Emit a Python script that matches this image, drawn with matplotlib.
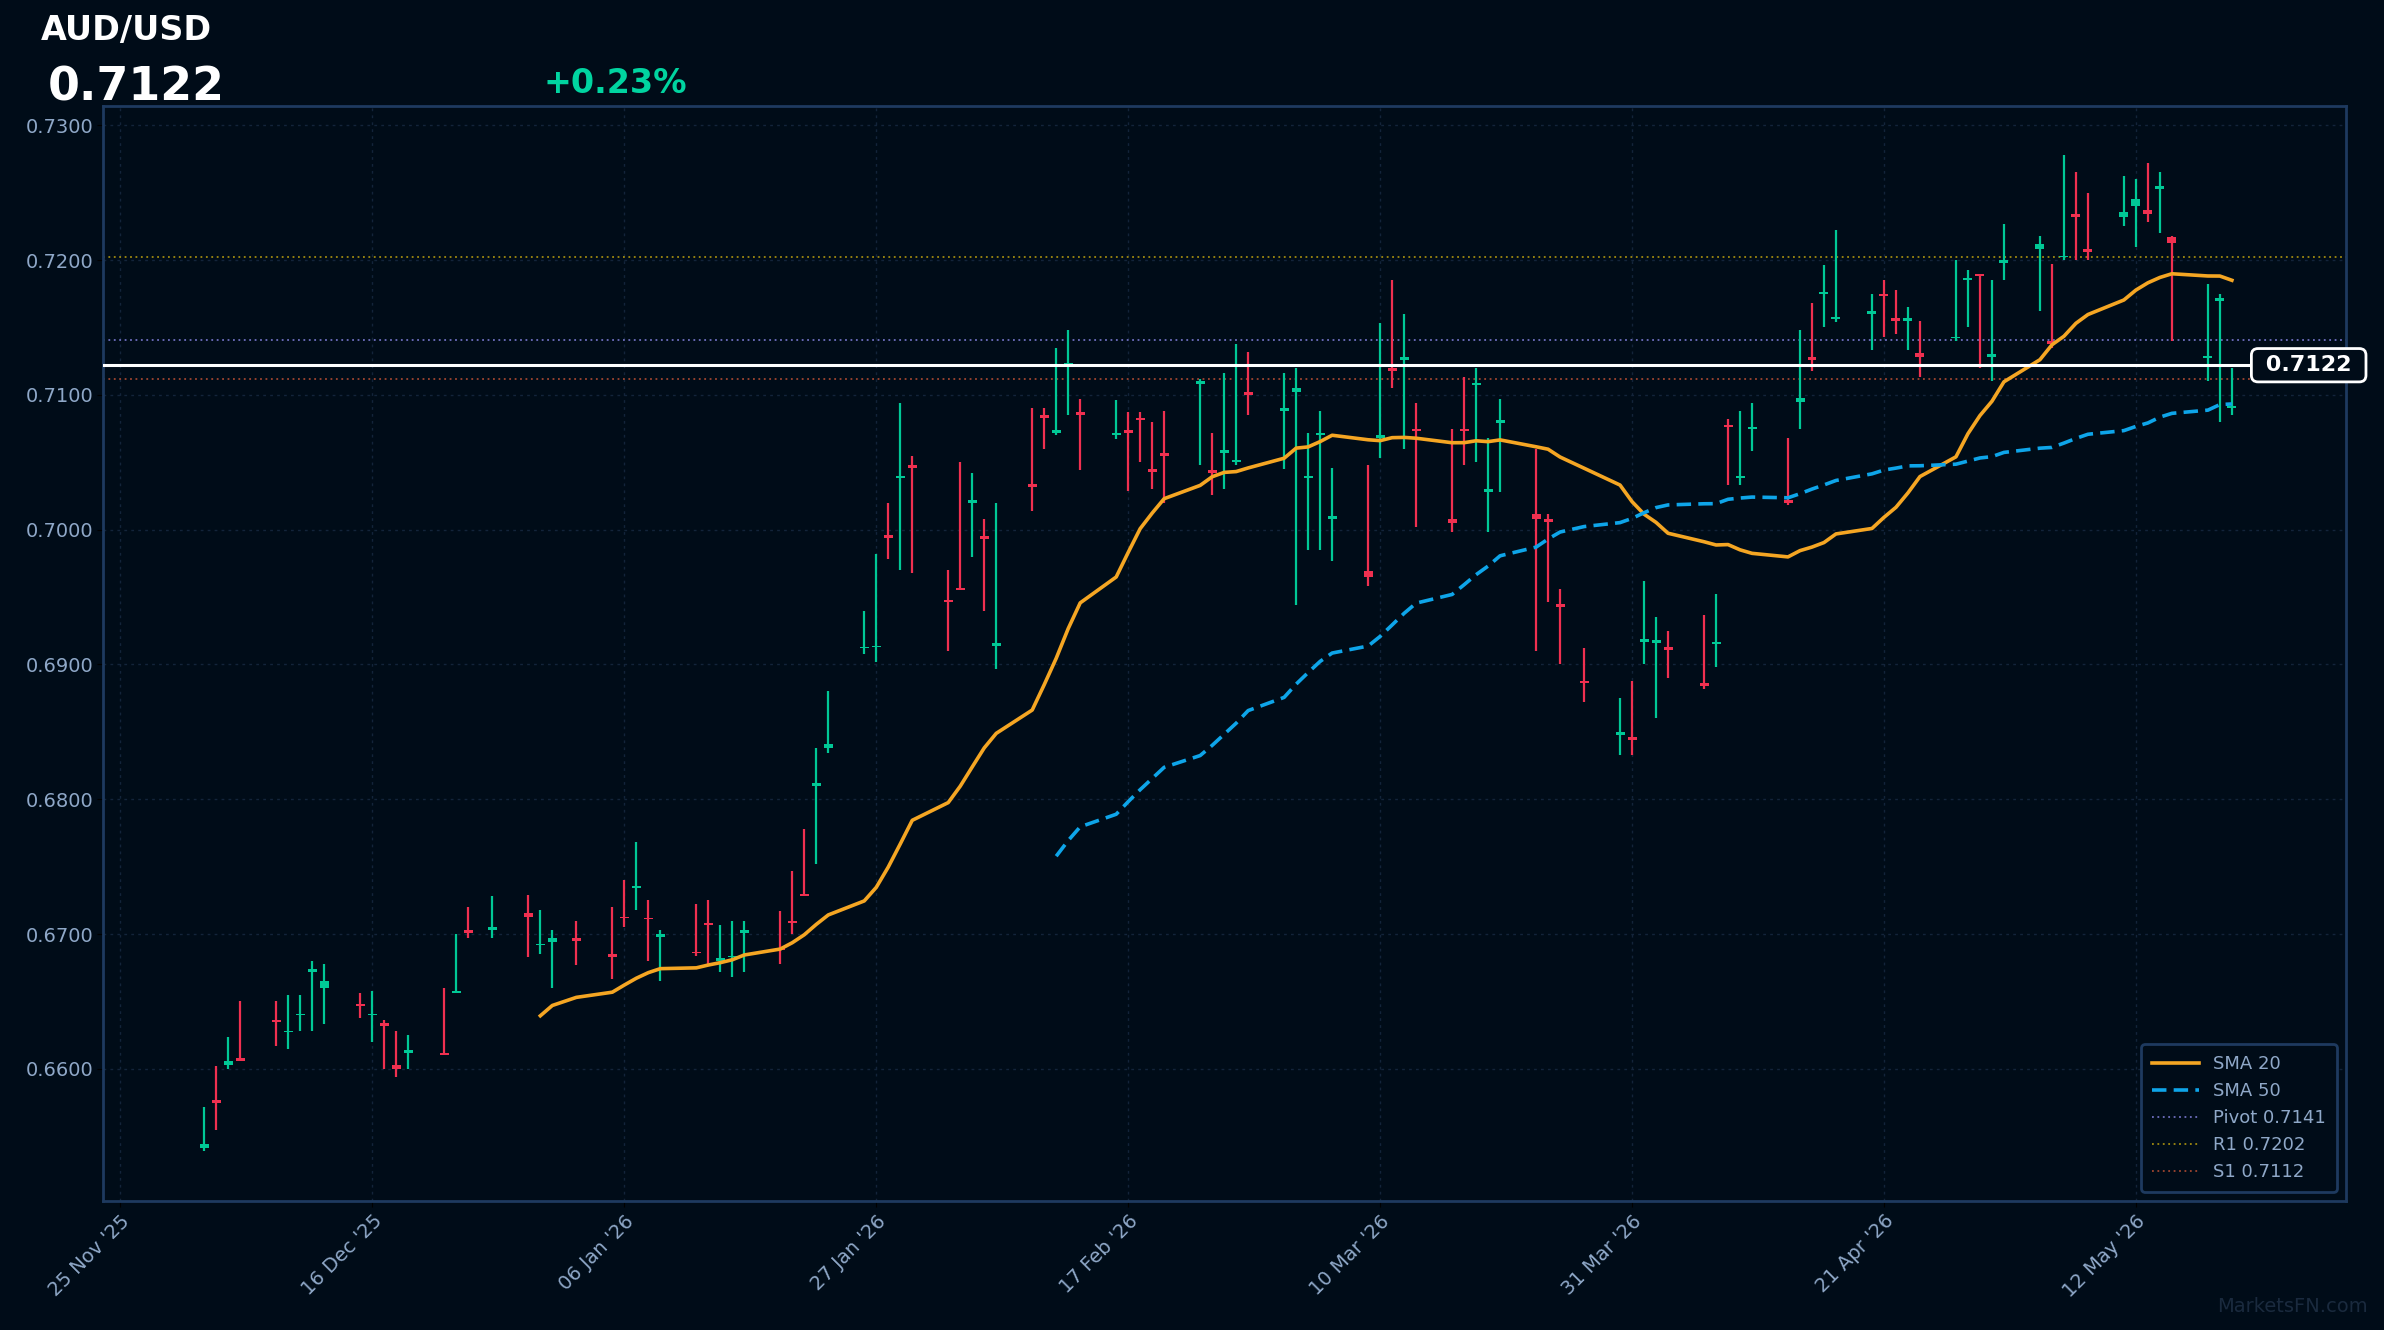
import numpy as np
import pandas as pd
import matplotlib
matplotlib.use("Agg")
import matplotlib.pyplot as plt
import matplotlib.dates as mdates

symbol = "AUD/USD"
last_price = 0.7122
change_pct = "+0.23%"
pivot, r1, s1 = 0.7141, 0.7202, 0.7112
holidays = ["2025-12-25", "2026-01-01", "2026-03-26"]
dates = [d for d in pd.bdate_range("2025-12-02", "2026-05-20") if d.strftime("%Y-%m-%d") not in holidays]

opens = [.6541,.6577,.6603,.6608,.6636,.6627,.6640,.6672,.6660,.6648,.6640,.6634,.6603,.6612,.6612,.6656,.6703,.6703,.6716,.6692,
         .6694,.6697,.6685,.6713,.6734,.6712,.6698,.6687,.6708,.6680,.6683,.6701,.6690,.6710,.6730,.6810,.6838,.6912,.6913,.6996,
         .7038,.7048,.6948,.6957,.7020,.6995,.6914,.7034,.7085,.7072,.7122,.7087,.7070,.7074,.7083,.7045,.7057,.7108,.7044,.7057,
         .7050,.7102,.7088,.7102,.7038,.7070,.7008,.6969,.7068,.7120,.7126,.7075,.7008,.7075,.7107,.7028,.7079,.7012,.7008,.6945,
         .6888,.6848,.6846,.6917,.6916,.6913,.6886,.6915,.7078,.7038,.7075,.7022,.7095,.7128,.7175,.7156,.7160,.7175,.7157,.7155,
         .7131,.7142,.7185,.7190,.7128,.7198,.7208,.7140,.7202,.7234,.7208,.7232,.7240,.7237,.7253,.7217,.7127,.7170,.7090]
closes = [.6544,.6575,.6606,.6606,.6635,.6628,.6641,.6674,.6665,.6647,.6641,.6632,.6600,.6614,.6610,.6658,.6701,.6705,.6713,.6693,
          .6697,.6695,.6683,.6712,.6736,.6711,.6700,.6686,.6707,.6682,.6684,.6703,.6688,.6708,.6728,.6812,.6841,.6913,.6914,.6994,
          .7040,.7046,.6946,.6955,.7022,.6993,.6916,.7032,.7083,.7074,.7124,.7085,.7072,.7072,.7081,.7043,.7055,.7110,.7042,.7059,
          .7052,.7100,.7090,.7105,.7040,.7072,.7010,.6965,.7070,.7118,.7128,.7073,.7005,.7073,.7109,.7030,.7081,.7008,.7006,.6943,
          .6886,.6850,.6844,.6919,.6918,.6911,.6884,.6917,.7076,.7040,.7076,.7020,.7098,.7126,.7176,.7158,.7162,.7173,.7155,.7157,
          .7128,.7143,.7187,.7188,.7130,.7200,.7212,.7138,.7203,.7232,.7206,.7236,.7245,.7234,.7255,.7213,.7129,.7172,.7092]
highs = [.6572,.6602,.6624,.6650,.6650,.6655,.6655,.6680,.6678,.6656,.6658,.6636,.6628,.6625,.6660,.6700,.6720,.6728,.6729,.6718,
         .6703,.6710,.6720,.6740,.6768,.6725,.6703,.6722,.6725,.6707,.6710,.6710,.6717,.6747,.6778,.6838,.6880,.6940,.6982,.7020,
         .7094,.7055,.6970,.7050,.7042,.7008,.7020,.7090,.7090,.7135,.7148,.7097,.7096,.7087,.7087,.7080,.7088,.7112,.7072,.7116,
         .7138,.7132,.7116,.7120,.7072,.7088,.7046,.7048,.7153,.7185,.7160,.7094,.7075,.7113,.7120,.7068,.7097,.7060,.7012,.6956,
         .6912,.6875,.6888,.6962,.6935,.6925,.6937,.6952,.7082,.7088,.7094,.7068,.7148,.7168,.7196,.7222,.7175,.7185,.7178,.7165,
         .7155,.7200,.7193,.7190,.7185,.7227,.7218,.7197,.7278,.7265,.7250,.7262,.7260,.7272,.7265,.7218,.7182,.7175,.7120]
lows = [.6539,.6555,.6600,.6606,.6617,.6615,.6628,.6628,.6633,.6638,.6620,.6600,.6594,.6600,.6610,.6656,.6697,.6697,.6683,.6685,
        .6660,.6677,.6667,.6705,.6718,.6680,.6665,.6684,.6676,.6672,.6668,.6672,.6678,.6700,.6728,.6752,.6834,.6908,.6902,.6978,
        .6970,.6968,.6910,.6955,.6980,.6940,.6897,.7014,.7060,.7070,.7085,.7044,.7067,.7029,.7050,.7030,.7020,.7048,.7026,.7030,
        .7048,.7085,.7045,.6944,.6985,.6985,.6977,.6958,.7053,.7105,.7060,.7002,.6998,.7048,.7050,.6998,.7028,.6910,.6946,.6900,
        .6872,.6833,.6833,.6900,.6860,.6890,.6882,.6898,.7033,.7033,.7058,.7018,.7075,.7118,.7150,.7154,.7133,.7143,.7145,.7133,
        .7113,.7140,.7150,.7120,.7110,.7185,.7162,.7135,.7200,.7200,.7200,.7225,.7210,.7228,.7220,.7140,.7110,.7080,.7085]

x_ticks = ["2025-11-25", "2025-12-16", "2026-01-06", "2026-01-27", "2026-02-17",
           "2026-03-10", "2026-03-31", "2026-04-21", "2026-05-12"]

BG = "#000c18"; GREEN = "#00c896"; RED = "#f03050"; GRID = "#13243a"; SPINE = "#1e3a5f"; TXT = "#8fa8c8"

df = pd.DataFrame({"o": opens, "c": closes, "h": highs, "l": lows}, index=pd.DatetimeIndex(dates))
sma20 = df["c"].rolling(20).mean()
sma50 = df["c"].rolling(50).mean()

fig = plt.figure(figsize=(23.84, 13.3), dpi=100, facecolor=BG)
ax = fig.add_axes([0.0434, 0.097, 0.9406, 0.823], facecolor=BG)

xs = mdates.date2num(df.index.to_pydatetime())
for x, o, c, h, l in zip(xs, df.o, df.c, df.h, df.l):
    col = GREEN if c >= o else RED
    ax.vlines(x, l, h, color=col, lw=1.6, zorder=3)
    ax.bar(x, max(abs(c - o), 0.00008), bottom=min(o, c), width=0.75, color=col, zorder=4, linewidth=0)

ax.plot(xs, sma20.values, color="#f5a623", lw=2.6, zorder=5, label="SMA 20")
ax.plot(xs, sma50.values, color="#0ea5e9", lw=2.6, ls=(0, (4, 2)), zorder=5, label="SMA 50")
ax.axhline(pivot, color="#6f6fc0", lw=1.3, ls=(0, (1, 2)), label=f"Pivot {pivot:.4f}")
ax.axhline(r1, color="#a08a10", lw=1.3, ls=(0, (1, 2)), label=f"R1 {r1:.4f}")
ax.axhline(s1, color="#a04530", lw=1.3, ls=(0, (1, 2)), label=f"S1 {s1:.4f}")
ax.axhline(last_price, color="white", lw=2.2, zorder=6)
ax.text(1.006, last_price, f" {last_price:.4f} ", transform=ax.get_yaxis_transform(), ha="right", va="center",
        color="white", fontsize=16, fontweight="bold", zorder=7, clip_on=False,
        bbox=dict(boxstyle="round,pad=0.3", fc=BG, ec="white", lw=2))

ax.set_xlim(mdates.datestr2num("2025-11-23 14:00"), mdates.datestr2num("2026-05-29 12:00"))
ax.set_ylim(0.6502, 0.7314)
ax.set_yticks(np.arange(0.66, 0.7301, 0.01))
ax.yaxis.set_major_formatter(matplotlib.ticker.FormatStrFormatter("%.4f"))
tick_dates = pd.to_datetime(x_ticks)
ax.set_xticks(mdates.date2num(tick_dates.to_pydatetime()))
ax.set_xticklabels([d.strftime("%d %b '%y") for d in tick_dates], rotation=45, ha="right", rotation_mode="anchor")
ax.tick_params(axis="x", colors="black", labelcolor=TXT, labelsize=14, length=4)
ax.tick_params(axis="y", colors="black", labelcolor=TXT, labelsize=14, length=4)
ax.grid(True, color=GRID, lw=1, ls=(0, (2, 3)))
for s in ax.spines.values():
    s.set_color(SPINE); s.set_linewidth(2)

leg = ax.legend(loc="lower right", fontsize=13, facecolor=BG, edgecolor=SPINE, labelcolor=TXT,
                framealpha=1, borderpad=0.6, handlelength=2.6)
leg.get_frame().set_linewidth(2)

fig.text(0.017, 0.977, symbol, color="white", fontsize=24, fontweight="bold", va="center")
fig.text(0.020, 0.934, f"{last_price:.4f}", color="white", fontsize=33, fontweight="bold", va="center")
fig.text(0.228, 0.937, change_pct, color="#00d4a0", fontsize=24, fontweight="bold", va="center")
fig.text(0.993, 0.018, "MarketsFN.com", color="#1a2a3e", fontsize=14, ha="right", va="center")

fig.savefig("out.png", dpi=100, facecolor=BG)
